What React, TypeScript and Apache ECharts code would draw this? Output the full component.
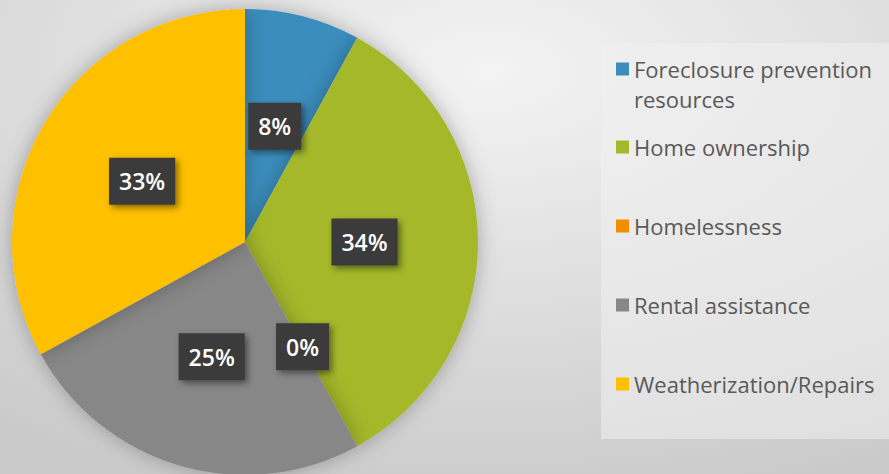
import React, { useEffect, useRef } from "react";
import * as echarts from "echarts";

const categories = [
  "Foreclosure prevention resources",
  "Home ownership",
  "Homelessness",
  "Rental assistance",
  "Weatherization/Repairs",
];
const shares = [8, 34, 0, 25, 33];
const colors = ["#3b8dbd", "#a4b82b", "#f28c00", "#878787", "#ffc000"];
const legendTops = [49, 127, 206, 285, 364];

export default function App() {
  const ref = useRef<HTMLDivElement>(null);
  useEffect(() => {
    document.body.style.margin = "0";
    const chart = echarts.init(ref.current!, undefined, { renderer: "svg" });
    const legends = categories.map((name, i) => ({
      data: [name],
      orient: "vertical" as const,
      left: 611,
      top: legendTops[i],
      itemWidth: 13,
      itemHeight: i === 0 ? 43 : 13,
      itemGap: 0,
      icon: i === 0 ? "path://M0 0h13v13H0zM0 42.9h13v0.1H0z" : "rect",
      itemStyle: { borderWidth: 0 },
      selectedMode: false,
      formatter: (n: string) =>
        n === "Foreclosure prevention resources" ? "Foreclosure prevention\nresources" : n,
      textStyle: {
        fontFamily: "Open Sans",
        fontSize: 22,
        color: "#595959",
        lineHeight: 30,
      },
    }));
    chart.setOption({
      animation: false,
      backgroundColor: {
        type: "radial",
        x: 0.55,
        y: 0.15,
        r: 0.95,
        colorStops: [
          { offset: 0, color: "#f3f3f3" },
          { offset: 1, color: "#c9c9c9" },
        ],
      },
      graphic: [
        {
          type: "rect",
          shape: { x: 601, y: 43, width: 288, height: 396 },
          style: { fill: "rgba(240,240,240,0.55)" },
          z: -1,
        },
      ],
      legend: legends,
      series: [
        {
          type: "pie",
          center: [245, 242],
          radius: 233,
          startAngle: 90,
          clockwise: true,
          avoidLabelOverlap: false,
          label: {
            show: true,
            position: "inside",
            formatter: "{d}%",
            fontFamily: "Open Sans",
            fontSize: 23,
            fontWeight: 600,
            color: "#ffffff",
            backgroundColor: "#3b3b3b",
            padding: [13, 10, 11, 10],
            shadowColor: "rgba(0,0,0,0.45)",
            shadowBlur: 6,
            shadowOffsetX: 3,
            shadowOffsetY: 3,
          },
          labelLine: { show: false },
          itemStyle: {
            shadowColor: "rgba(0,0,0,0.28)",
            shadowBlur: 20,
          },
          emphasis: { disabled: true },
          data: categories.map((name, i) => ({
            name,
            value: shares[i],
            itemStyle: { color: colors[i] },
          })),
        },
      ],
    });
    return () => chart.dispose();
  }, []);
  return (
    <div
      ref={ref}
      style={{ position: "absolute", left: 0, top: 0, width: 889, height: 474 }}
    />
  );
}
